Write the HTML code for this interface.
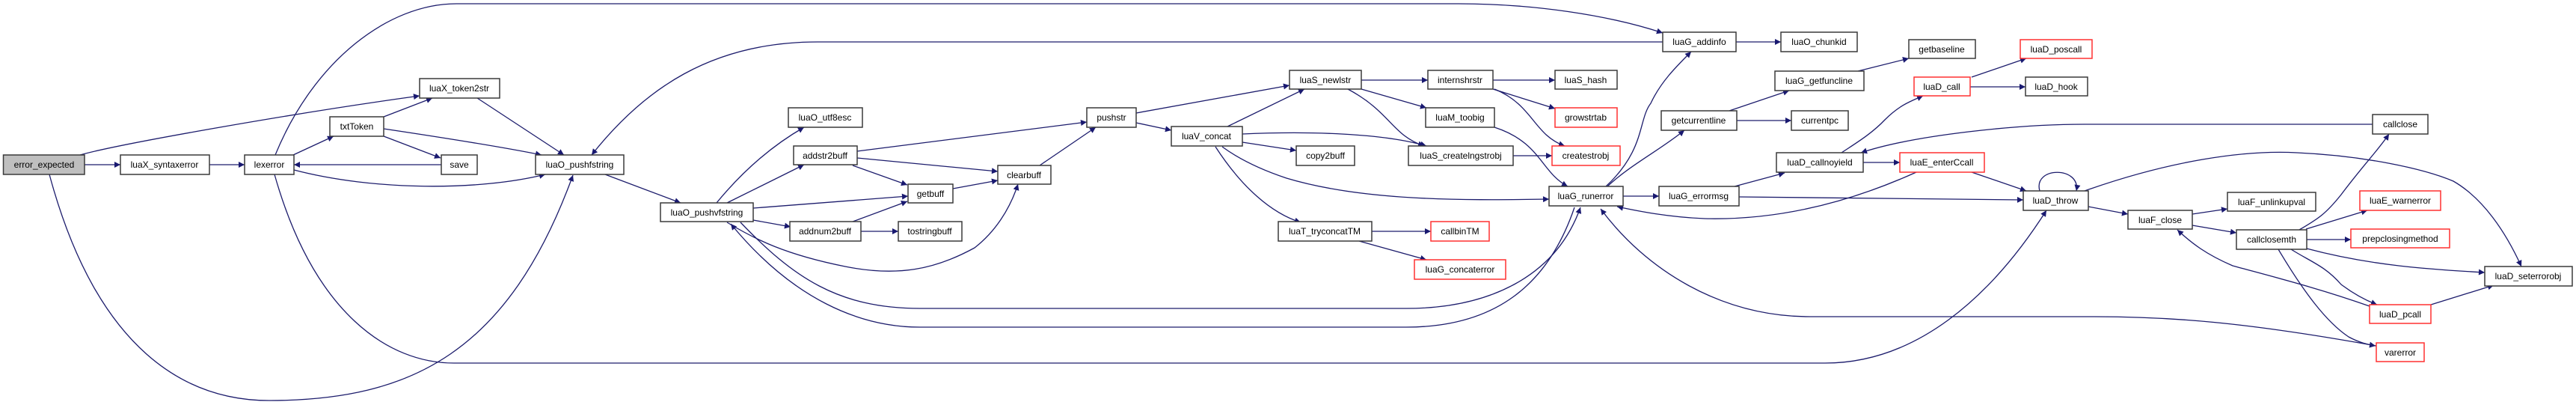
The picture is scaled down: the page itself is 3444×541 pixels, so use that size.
<!DOCTYPE html>
<html><head><meta charset="utf-8"><style>
html,body{margin:0;padding:0;background:#fff;}
svg{display:block;}
text{font-family:"Liberation Sans",Arial,sans-serif;font-size:12px;fill:#000;text-anchor:middle;}
.e{fill:none;stroke:#1c1c6c;stroke-width:1.3;}
.n{fill:#fff;stroke:#3a3a3a;stroke-width:1.5;}
.r{fill:#fff;stroke:#ff3030;stroke-width:1.5;}
</style></head><body>
<svg width="3444" height="541" viewBox="0 0 3444 541" xmlns="http://www.w3.org/2000/svg">
<defs><marker id="a" viewBox="0 0 10 10" refX="10" refY="5" markerWidth="11" markerHeight="8" markerUnits="userSpaceOnUse" orient="auto"><path d="M0,0 L10,5 L0,10 z" fill="#191970"/></marker></defs>
<g class="e" marker-end="url(#a)">
<path d="M113,220 L161,220"/>
<path d="M107,207 C160,192 400,150 561,128"/>
<path d="M66,233 C130,470 250,535 360,535 C550,535 680,470 766,234"/>
<path d="M280,220 L327,220"/>
<path d="M392,207 L446,182"/>
<path d="M513,156 L578,131"/>
<path d="M513,182 L589,211"/>
<path d="M590,220 L393,220"/>
<path d="M513,172 C600,185 680,198 724,207"/>
<path d="M393,227 C500,255 640,255 729,233"/>
<path d="M368,207 C420,80 520,5 610,5 L1950,5 C2050,5 2150,20 2223,44"/>
<path d="M367,233 C420,420 520,485 607,485 L2440,485 C2560,485 2660,400 2736,281"/>
<path d="M638,131 L754,207"/>
<path d="M809,233 L910,271"/>
<path d="M2223,56 L1093,56 C950,56 860,120 791,207"/>
<path d="M958,271 C1000,220 1040,190 1075,170"/>
<path d="M972,271 L1075,220"/>
<path d="M1007,278 L1214,262"/>
<path d="M1007,294 L1057,303"/>
<path d="M972,297 C1010,320 1050,340 1130,356 C1200,370 1250,360 1303,331 C1330,310 1350,280 1361,246"/>
<path d="M2105,277 C2070,380 2000,437 1880,437 L1230,437 C1150,437 1060,400 977,299"/>
<path d="M990,297 C1060,370 1120,412 1230,412 L1880,412 C1990,412 2080,370 2113,277"/>
<path d="M1140,221 L1213,247"/>
<path d="M1146,211 L1334,229"/>
<path d="M1146,202 L1453,163"/>
<path d="M1274,252 L1334,241"/>
<path d="M1140,296 L1213,269"/>
<path d="M1151,309 L1201,309"/>
<path d="M1390,221 L1465,170"/>
<path d="M1519,151 L1724,114"/>
<path d="M1519,164 L1566,174"/>
<path d="M1641,169 L1744,119"/>
<path d="M1661,179 C1750,175 1850,178 1907,195"/>
<path d="M1661,190 L1733,201"/>
<path d="M1634,196 C1660,215 1690,228 1720,238 C1820,268 1950,268 2071,266"/>
<path d="M1625,196 C1660,250 1700,285 1739,297"/>
<path d="M1820,107 L1909,107"/>
<path d="M1820,119 L1907,144"/>
<path d="M1802,119 C1860,150 1860,180 1904,195"/>
<path d="M1996,107 L2079,107"/>
<path d="M1996,119 L2079,145"/>
<path d="M1998,119 C2050,140 2050,180 2092,195"/>
<path d="M1998,170 C2060,190 2060,230 2096,249"/>
<path d="M2023,208 L2075,208"/>
<path d="M1834,309 L1913,309"/>
<path d="M1817,322 L1907,347"/>
<path d="M2147,249 C2200,200 2190,160 2207,138 C2220,110 2240,90 2261,69"/>
<path d="M2149,249 C2180,220 2220,200 2252,174"/>
<path d="M2170,262 L2218,262"/>
<path d="M2321,56 L2381,56"/>
<path d="M2312,148 L2392,121"/>
<path d="M2322,161 L2395,161"/>
<path d="M2484,95 L2552,78"/>
<path d="M2319,249 L2386,231"/>
<path d="M2325,263 L2705,267"/>
<path d="M2462,204 C2480,192 2502,179 2520,160 C2540,140 2555,135 2571,128"/>
<path d="M2491,217 L2540,217"/>
<path d="M2636,230 L2709,255"/>
<path d="M2562,230 C2500,258 2400,295 2279,292 C2230,290 2190,282 2162,276"/>
<path d="M2636,103 L2709,78"/>
<path d="M2634,116 L2708,116"/>
<path d="M2727,255 C2718,222 2782,222 2776,255"/>
<path d="M2787,255 C2900,215 3000,200 3071,204 C3160,208 3240,225 3280,242 C3320,265 3350,310 3371,356"/>
<path d="M3172,166 L2787,166 C2700,166 2560,180 2488,204"/>
<path d="M2792,276 L2845,286"/>
<path d="M2931,286 L2978,279"/>
<path d="M2931,301 L2990,311"/>
<path d="M3074,307 C3100,292 3110,285 3130,260 C3160,220 3180,200 3194,179"/>
<path d="M3083,306 L3165,281"/>
<path d="M3084,320 L3143,320"/>
<path d="M3084,332 C3170,355 3250,360 3322,364"/>
<path d="M3063,333 C3090,350 3108,355 3130,380 C3150,395 3165,402 3178,407"/>
<path d="M3046,333 C3080,390 3110,430 3140,450 C3155,458 3165,460 3176,462"/>
<path d="M3168,409 C3100,385 3040,370 2985,355 C2950,340 2930,325 2911,307"/>
<path d="M3250,407 L3334,381"/>
<path d="M3177,462 C3000,430 2900,423 2800,423 L2420,423 C2300,423 2200,360 2140,279"/>
</g>
<g>
<rect x="4.5" y="207" width="108.5" height="26" fill="#bfbfbf" stroke="#3a3a3a" stroke-width="1.5"/><text x="59" y="224">error_expected</text>
<rect class="n" x="161" y="207" width="119" height="26"/><text x="220" y="224">luaX_syntaxerror</text>
<rect class="n" x="327" y="207" width="66" height="26"/><text x="360" y="224">lexerror</text>
<rect class="n" x="441" y="156" width="72" height="26"/><text x="477" y="173">txtToken</text>
<rect class="n" x="561" y="105" width="107" height="26"/><text x="614" y="122">luaX_token2str</text>
<rect class="n" x="590" y="207" width="48" height="26"/><text x="614" y="224">save</text>
<rect class="n" x="716" y="207" width="118" height="26"/><text x="775" y="224">luaO_pushfstring</text>
<rect class="n" x="883" y="271" width="124" height="25"/><text x="945" y="288">luaO_pushvfstring</text>
<rect class="n" x="1054" y="144" width="99" height="26"/><text x="1103" y="161">luaO_utf8esc</text>
<rect class="n" x="1061" y="195" width="85" height="25"/><text x="1103" y="212">addstr2buff</text>
<rect class="n" x="1214" y="246" width="60" height="25"/><text x="1244" y="263">getbuff</text>
<rect class="n" x="1056" y="296" width="95" height="26"/><text x="1103" y="313">addnum2buff</text>
<rect class="n" x="1201" y="296" width="85" height="26"/><text x="1243" y="313">tostringbuff</text>
<rect class="n" x="1334" y="221" width="71" height="25"/><text x="1369" y="238">clearbuff</text>
<rect class="n" x="1453" y="144" width="66" height="26"/><text x="1486" y="161">pushstr</text>
<rect class="n" x="1566" y="169" width="95" height="26"/><text x="1613" y="186">luaV_concat</text>
<rect class="n" x="1724" y="94" width="96" height="25"/><text x="1772" y="111">luaS_newlstr</text>
<rect class="n" x="1909" y="94" width="87" height="25"/><text x="1952" y="111">internshrstr</text>
<rect class="n" x="1906" y="144" width="92" height="26"/><text x="1952" y="161">luaM_toobig</text>
<rect class="n" x="1733" y="195" width="78" height="26"/><text x="1772" y="212">copy2buff</text>
<rect class="n" x="1883" y="195" width="140" height="26"/><text x="1953" y="212">luaS_createlngstrobj</text>
<rect class="n" x="1709" y="296" width="125" height="26"/><text x="1771" y="313">luaT_tryconcatTM</text>
<rect class="r" x="1913" y="296" width="78" height="26"/><text x="1952" y="313">callbinTM</text>
<rect class="r" x="1891" y="347" width="122" height="26"/><text x="1952" y="364">luaG_concaterror</text>
<rect class="n" x="2079" y="94" width="83" height="25"/><text x="2120" y="111">luaS_hash</text>
<rect class="r" x="2079" y="144" width="83" height="26"/><text x="2120" y="161">growstrtab</text>
<rect class="r" x="2075" y="195" width="91" height="26"/><text x="2120" y="212">createstrobj</text>
<rect class="n" x="2071" y="249" width="99" height="26"/><text x="2120" y="266">luaG_runerror</text>
<rect class="n" x="2223" y="43" width="98" height="26"/><text x="2272" y="60">luaG_addinfo</text>
<rect class="n" x="2381" y="43" width="102" height="26"/><text x="2432" y="60">luaO_chunkid</text>
<rect class="n" x="2552" y="53" width="89" height="25"/><text x="2596" y="70">getbaseline</text>
<rect class="r" x="2701" y="53" width="96" height="25"/><text x="2749" y="70">luaD_poscall</text>
<rect class="n" x="2373" y="95" width="119" height="26"/><text x="2432" y="112">luaG_getfuncline</text>
<rect class="r" x="2559" y="103" width="75" height="25"/><text x="2596" y="120">luaD_call</text>
<rect class="n" x="2708" y="103" width="83" height="25"/><text x="2749" y="120">luaD_hook</text>
<rect class="n" x="2221" y="148" width="101" height="26"/><text x="2271" y="165">getcurrentline</text>
<rect class="n" x="2395" y="148" width="76" height="26"/><text x="2433" y="165">currentpc</text>
<rect class="n" x="2375" y="204" width="116" height="26"/><text x="2433" y="221">luaD_callnoyield</text>
<rect class="r" x="2540" y="204" width="113" height="26"/><text x="2596" y="221">luaE_enterCcall</text>
<rect class="n" x="2218" y="249" width="107" height="26"/><text x="2271" y="266">luaG_errormsg</text>
<rect class="n" x="2705" y="255" width="87" height="26"/><text x="2748" y="272">luaD_throw</text>
<rect class="n" x="3172" y="153" width="74" height="26"/><text x="3209" y="170">callclose</text>
<rect class="n" x="2978" y="257" width="118" height="25"/><text x="3037" y="274">luaF_unlinkupval</text>
<rect class="n" x="2845" y="281" width="86" height="25"/><text x="2888" y="298">luaF_close</text>
<rect class="n" x="2990" y="307" width="94" height="26"/><text x="3037" y="324">callclosemth</text>
<rect class="r" x="3155" y="255" width="108" height="26"/><text x="3209" y="272">luaE_warnerror</text>
<rect class="r" x="3143" y="306" width="132" height="25"/><text x="3209" y="323">prepclosingmethod</text>
<rect class="n" x="3322" y="356" width="117" height="26"/><text x="3380" y="373">luaD_seterrorobj</text>
<rect class="r" x="3168" y="407" width="82" height="25"/><text x="3209" y="424">luaD_pcall</text>
<rect class="r" x="3177" y="458" width="64" height="25"/><text x="3209" y="475">varerror</text>
</g>
</svg>
</body></html>
